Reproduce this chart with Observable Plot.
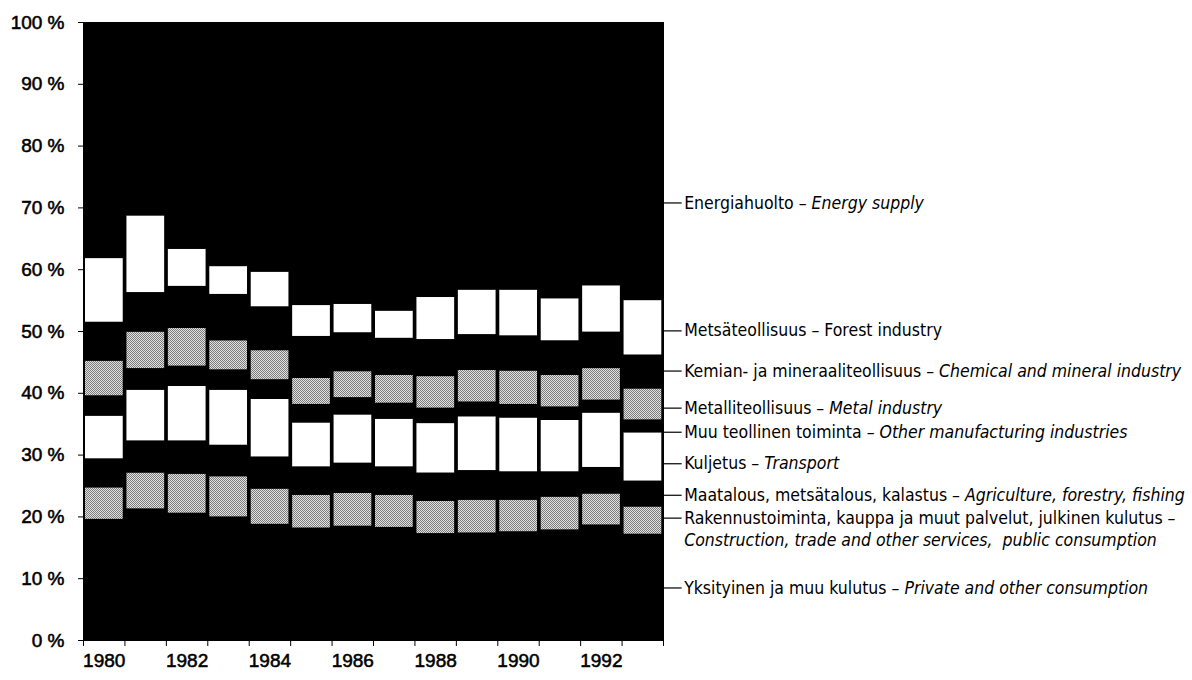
<!DOCTYPE html>
<html>
<head>
<meta charset="utf-8">
<script src="https://cdn.jsdelivr.net/npm/d3@7"></script>
<script src="https://cdn.jsdelivr.net/npm/@observablehq/plot@0.6"></script>
<style>
  html, body { margin: 0; padding: 0; background: #fff; }
  g[aria-label="y-axis tick label"] text, g[aria-label="x-axis tick label"] text { stroke: black; stroke-width: 0.55px; }
</style>
</head>
<body>
<div id="chart"></div>
<script>
// ---- data (shares of total, %) ----
const years = [1980, 1981, 1982, 1983, 1984, 1985, 1986, 1987, 1988, 1989, 1990, 1991, 1992, 1993];

// stacking order: bottom -> top
const sectors = [
  "Private and other consumption",
  "Construction, trade and other services, public consumption",
  "Agriculture, forestry, fishing",
  "Transport",
  "Other manufacturing industries",
  "Metal industry",
  "Chemical and mineral industry",
  "Forest industry",
  "Energy supply"
];

const privateConsumption = [19.6, 21.3, 20.6, 20.0, 18.8, 18.2, 18.5, 18.3, 17.3, 17.4, 17.6, 17.9, 18.7, 17.2];
const constructionServices = [5.1, 5.8, 6.3, 6.5, 5.7, 5.3, 5.3, 5.2, 5.2, 5.3, 5.1, 5.3, 5.0, 4.4];
const agriculture = [4.7, 5.2, 5.4, 5.1, 5.2, 4.6, 4.9, 4.6, 4.6, 4.8, 4.6, 4.1, 4.3, 4.2];
const transport = [6.9, 8.2, 8.8, 8.9, 9.3, 7.1, 7.8, 7.7, 8.0, 8.7, 8.7, 8.3, 8.8, 7.8];
const otherManufacturing = [3.3, 3.5, 3.3, 3.3, 3.2, 3.0, 2.8, 2.6, 2.5, 2.4, 2.2, 2.2, 2.1, 2.1];
const metalIndustry = [5.6, 5.9, 6.1, 4.7, 4.7, 4.2, 4.2, 4.5, 5.1, 5.1, 5.4, 5.1, 5.1, 5.0];
const chemicalMineral = [6.3, 6.4, 6.8, 7.5, 7.1, 6.8, 6.3, 6.0, 6.0, 5.8, 5.7, 5.6, 5.9, 5.5];
const forestIndustry = [10.3, 12.4, 6.0, 4.5, 5.6, 5.0, 4.6, 4.4, 6.8, 7.2, 7.4, 6.8, 7.5, 8.8];
const energySupply = [38.2, 31.3, 36.7, 39.5, 40.4, 45.8, 45.6, 46.7, 44.5, 43.3, 43.3, 44.7, 42.6, 45.0];

const seriesValues = [
  privateConsumption, constructionServices, agriculture, transport,
  otherManufacturing, metalIndustry, chemicalMineral, forestIndustry, energySupply
];

// fills (bottom -> top)
const sectorFills = ["black", "url(#dots)", "black", "white", "black", "url(#dots)", "black", "white", "black"];

// y-axis ticks and x labels
const yTicks = [0, 10, 20, 30, 40, 50, 60, 70, 80, 90, 100];
const yearLabels = [1980, 1982, 1984, 1986, 1988, 1990, 1992];

// right-hand labels (Finnish / English), level in % where the leader sits
const labelFi = [
  "Energiahuolto",
  "Metsäteollisuus",
  "Kemian- ja mineraaliteollisuus",
  "Metalliteollisuus",
  "Muu teollinen toiminta",
  "Kuljetus",
  "Maatalous, metsätalous, kalastus",
  "Rakennustoiminta, kauppa ja muut palvelut, julkinen kulutus",
  "Yksityinen ja muu kulutus"
];
const labelEn = [
  "Energy supply",
  "Forest industry",
  "Chemical and mineral industry",
  "Metal industry",
  "Other manufacturing industries",
  "Transport",
  "Agriculture, forestry, fishing",
  "Construction, trade and other services,  public consumption",
  "Private and other consumption"
];
const labelItalic = [true, false, true, true, true, true, true, true, true];
const labelWrap = [false, false, false, false, false, false, false, true, false];
const labelAt = [70.8, 50.1, 43.6, 37.6, 33.7, 28.6, 23.5, 19.8, 8.5];

// ---- build tables ----
const rows = [];
sectors.forEach((s, i) => {
  years.forEach((y, j) => rows.push({year: y, sector: s, value: seriesValues[i][j]}));
});
const labels = labelFi.map((fi, i) => ({fi, en: labelEn[i], italic: labelItalic[i], wrap: labelWrap[i], at: labelAt[i]}));

const xStart = years[0] - 0.5;
const xEnd = years[years.length - 1] + 0.5;
const leader = 0.45;

const chart = Plot.plot({
  width: 1192,
  height: 680,
  marginTop: 22,
  marginBottom: 40,
  marginLeft: 83,
  marginRight: 529,
  style: {fontFamily: "'Liberation Sans', Arial, Helvetica, sans-serif", fontSize: "19px", color: "black", background: "white"},
  x: {type: "linear", domain: [xStart, xEnd], label: null},
  y: {domain: [0, 100], label: null},
  color: {type: "ordinal", domain: sectors, range: sectorFills},
  marks: [
    Plot.frame({fill: "black", stroke: "black"}),
    Plot.rectY(rows, Plot.stackY({
      x: "year",
      x1: d => d.year - 0.5,
      x2: d => d.year + 0.5,
      y: "value",
      z: "sector",
      order: sectors,
      fill: "sector",
      insetLeft: 2,
      insetRight: 1.7
    })),
    Plot.axisY({ticks: yTicks, tickFormat: d => `${d} %`, tickSize: 5, tickPadding: 14, label: null}),
    Plot.axisX({ticks: d3.range(xStart, xEnd + 0.01, 1), tickSize: 6, tickFormat: () => "", label: null}),
    Plot.axisX({ticks: yearLabels, tickSize: 0, tickPadding: 13, tickFormat: d => String(d), label: null}),
    Plot.ruleY(labels, {y: "at", x1: () => xEnd, x2: () => xEnd + leader, stroke: "black", strokeWidth: 1.2}),
    Plot.text(labels, {
      x: () => xEnd + leader,
      y: "at",
      dx: 2,
      text: d => d.fi,
      textAnchor: "start",
      fontFamily: "'Liberation Sans Narrow', 'Arial Narrow', 'DejaVu Sans Condensed', sans-serif",
      fontSize: 17.5
    })
  ]
});

// halftone pattern for the grey segments
const svg = d3.select(chart);
const defs = svg.insert("defs", ":first-child");
const pat = defs.append("pattern").attr("id", "dots").attr("width", 2).attr("height", 2).attr("patternUnits", "userSpaceOnUse");
pat.append("rect").attr("width", 2).attr("height", 2).attr("fill", "#e2e2e2");
pat.append("rect").attr("width", 1).attr("height", 1).attr("fill", "#7c7c7c");
pat.append("rect").attr("x", 1).attr("y", 1).attr("width", 1).attr("height", 1).attr("fill", "#7c7c7c");

// mixed upright / italic label text
svg.selectAll('g[aria-label="text"] text').each(function(_, i) {
  const d = labels[i];
  if (!d) return;
  const t = d3.select(this);
  const xa = this.getAttribute("x") ?? "0";
  t.text(null);
  if (d.wrap) {
    t.append("tspan").text(d.fi + " –");
    t.append("tspan").attr("x", xa).attr("dy", "1.25em").attr("font-style", d.italic ? "italic" : null).text(d.en);
  } else {
    t.append("tspan").text(d.fi + " – ");
    t.append("tspan").attr("font-style", d.italic ? "italic" : null).text(d.en);
  }
});

document.getElementById("chart").appendChild(chart);
</script>
</body>
</html>
